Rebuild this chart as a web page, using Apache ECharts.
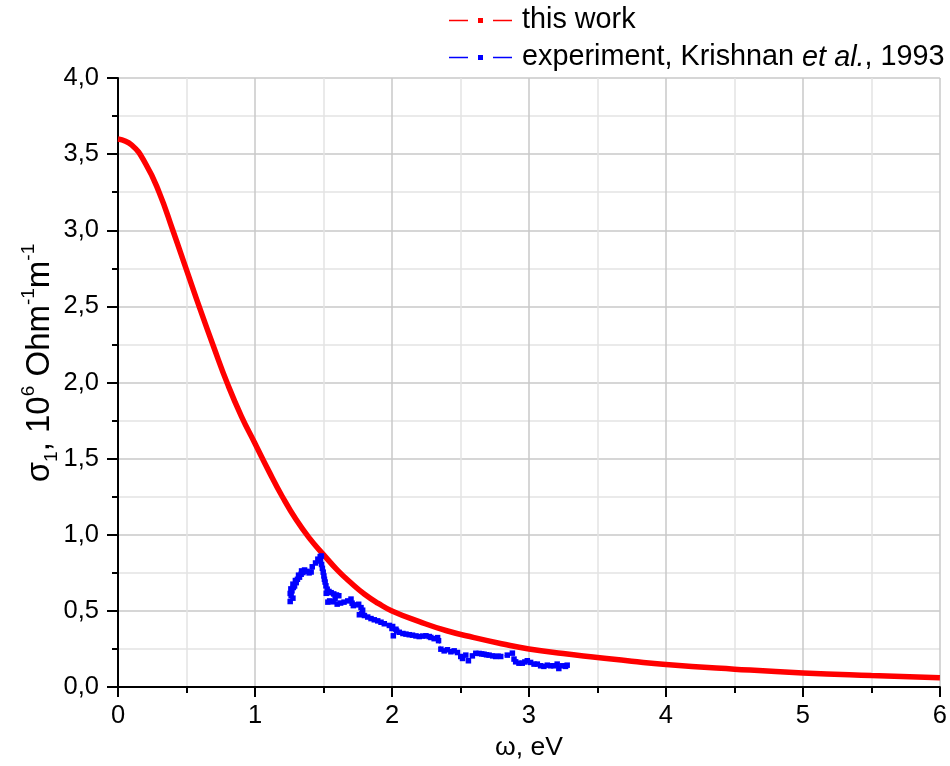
<!DOCTYPE html>
<html>
<head>
<meta charset="utf-8">
<script src="https://cdn.jsdelivr.net/npm/echarts@6/dist/echarts.min.js"></script>
<style>
  html, body { margin: 0; padding: 0; background: #ffffff; }
  #chart { width: 950px; height: 766px; }
</style>
</head>
<body>
<div id="chart"></div>
<script>
// Model: real part of the optical conductivity (this work)
const omegaModel = [0, 0.1, 0.2, 0.3, 0.4, 0.5, 0.6, 0.7, 0.8, 0.9, 1.0, 1.1, 1.2, 1.3, 1.4, 1.5,
  1.6, 1.7, 1.8, 1.9, 2.0, 2.2, 2.4, 2.6, 2.8, 3.0, 3.25, 3.5, 3.75, 4.0, 4.5, 5.0, 5.5, 6.0];
const sigmaModel = [3.60, 3.56, 3.44, 3.25, 3.00, 2.74, 2.48, 2.23, 1.99, 1.78, 1.60, 1.42, 1.25,
  1.10, 0.975, 0.87, 0.77, 0.685, 0.61, 0.55, 0.50, 0.43, 0.37, 0.325, 0.285, 0.25, 0.22, 0.195,
  0.17, 0.148, 0.118, 0.093, 0.076, 0.062];

// Experimental points (Krishnan et al., 1993)
const omegaExp = [1.257, 1.277, 1.264, 1.257, 1.270, 1.262, 1.280, 1.289, 1.277, 1.301, 1.295, 1.310,
  1.325, 1.318, 1.337, 1.350, 1.340, 1.362, 1.379, 1.395, 1.410, 1.418, 1.442, 1.459, 1.476, 1.485,
  1.478, 1.486, 1.492, 1.498, 1.503, 1.507, 1.512, 1.518, 1.527, 1.520, 1.540, 1.556, 1.575, 1.595,
  1.612, 1.585, 1.545, 1.532, 1.570, 1.600, 1.625, 1.650, 1.677, 1.701, 1.709, 1.718, 1.738, 1.757,
  1.774, 1.786, 1.762, 1.780, 1.799, 1.823, 1.847, 1.871, 1.896, 1.920, 1.944, 1.981, 2.005, 2.000,
  2.029, 2.010, 2.034, 2.053, 2.080, 2.102, 2.126, 2.150, 2.175, 2.199, 2.225, 2.248, 2.272, 2.284,
  2.308, 2.333, 2.340, 2.357, 2.381, 2.405, 2.430, 2.454, 2.478, 2.502, 2.515, 2.539, 2.558, 2.587,
  2.612, 2.636, 2.655, 2.672, 2.690, 2.709, 2.735, 2.757, 2.775, 2.794, 2.842, 2.879, 2.891, 2.903,
  2.927, 2.951, 2.970, 2.988, 3.012, 3.037, 3.061, 3.085, 3.109, 3.134, 3.158, 3.182, 3.206, 3.218,
  3.243, 3.267, 3.279];
const sigmaExp = [0.562, 0.584, 0.600, 0.615, 0.632, 0.645, 0.654, 0.664, 0.676, 0.686, 0.700, 0.708,
  0.722, 0.735, 0.741, 0.752, 0.763, 0.769, 0.760, 0.750, 0.756, 0.790, 0.815, 0.840, 0.857, 0.861,
  0.828, 0.805, 0.780, 0.755, 0.730, 0.708, 0.690, 0.665, 0.643, 0.616, 0.628, 0.620, 0.612, 0.605,
  0.600, 0.580, 0.566, 0.558, 0.560, 0.545, 0.552, 0.558, 0.566, 0.578, 0.551, 0.535, 0.540, 0.544,
  0.522, 0.505, 0.475, 0.482, 0.470, 0.460, 0.450, 0.442, 0.435, 0.426, 0.416, 0.405, 0.398, 0.385,
  0.380, 0.337, 0.369, 0.360, 0.352, 0.348, 0.344, 0.341, 0.336, 0.332, 0.335, 0.337, 0.332, 0.326,
  0.318, 0.325, 0.305, 0.249, 0.238, 0.245, 0.232, 0.238, 0.227, 0.201, 0.188, 0.210, 0.173, 0.205,
  0.222, 0.221, 0.218, 0.216, 0.212, 0.210, 0.205, 0.201, 0.203, 0.201, 0.210, 0.223, 0.184, 0.166,
  0.157, 0.157, 0.165, 0.173, 0.162, 0.151, 0.151, 0.140, 0.136, 0.144, 0.140, 0.140, 0.151, 0.122,
  0.140, 0.136, 0.144];

const seriesNames = ['this work', 'experiment, Krishnan et al., 1993'];

const FONT = '"Liberation Sans", Arial, sans-serif';
const legendIcon = 'path://M0,1.75H19V3.25H0Z M29,0H34V5H29Z M44,1.75H63V3.25H44Z';

const chart = echarts.init(document.getElementById('chart'), null, { renderer: 'canvas' });

const zip = (xs, ys) => xs.map((x, i) => [x, ys[i]]);

chart.setOption({
  animation: false,
  backgroundColor: '#ffffff',
  textStyle: { fontFamily: FONT },
  grid: { left: 118, right: 8, top: 78, bottom: 78, containLabel: false },
  legend: {
    orient: 'vertical',
    left: 449,
    top: 6,
    padding: 0,
    itemWidth: 63,
    itemHeight: 5,
    itemGap: 8,
    selectedMode: false,
    data: [
      { name: seriesNames[0], icon: legendIcon },
      { name: seriesNames[1], icon: legendIcon }
    ],
    formatter: function (name) {
      if (name === seriesNames[1]) {
        return '{n|experiment, Krishnan }{i|et al.}{n|, 1993}';
      }
      return '{n|' + name + '}';
    },
    textStyle: {
      fontFamily: FONT,
      fontSize: 28.8,
      color: '#000',
      padding: [0, 0, 0, 5],
      rich: {
        n: { fontFamily: FONT, fontSize: 28.8, color: '#000', lineHeight: 30 },
        i: { fontFamily: FONT, fontSize: 28.8, color: '#000', fontStyle: 'italic', lineHeight: 30 }
      }
    }
  },
  xAxis: {
    type: 'value',
    min: 0,
    max: 6,
    interval: 1,
    name: 'ω, eV',
    nameLocation: 'middle',
    nameGap: 45,
    nameTextStyle: { fontFamily: FONT, fontSize: 26.5, color: '#000' },
    axisLine: { show: true, onZero: false, lineStyle: { color: '#000', width: 2 } },
    axisTick: { show: true, inside: false, length: 10, lineStyle: { color: '#000', width: 2 } },
    minorTick: { show: true, splitNumber: 2, length: 6, lineStyle: { color: '#000', width: 2 } },
    axisLabel: { fontFamily: FONT, fontSize: 25.5, color: '#000', margin: 16,
      formatter: v => String(v) },
    splitLine: { show: true, lineStyle: { color: '#c8c8c8', width: 1.5 } },
    minorSplitLine: { show: true, lineStyle: { color: '#e3e3e3', width: 1.5 } }
  },
  yAxis: {
    type: 'value',
    min: 0,
    max: 4,
    interval: 0.5,
    axisLine: { show: true, onZero: false, lineStyle: { color: '#000', width: 2 } },
    axisTick: { show: true, inside: false, length: 11, lineStyle: { color: '#000', width: 2 } },
    minorTick: { show: true, splitNumber: 2, length: 6, lineStyle: { color: '#000', width: 2 } },
    axisLabel: { fontFamily: FONT, fontSize: 25.5, color: '#000', margin: 19,
      formatter: v => v.toFixed(1).replace('.', ',') },
    splitLine: { show: true, lineStyle: { color: '#c8c8c8', width: 1.5 } },
    minorSplitLine: { show: true, lineStyle: { color: '#e3e3e3', width: 1.5 } }
  },
  graphic: [{
    type: 'text',
    x: 40,
    y: 363,
    rotation: Math.PI / 2,
    style: {
      x: 0,
      y: 0,
      align: 'center',
      verticalAlign: 'middle',
      text: '{b|σ}{sub|1}{b|, 10}{sup|6}{b| Ohm}{sup|-1}{b|m}{sup|-1}',
      rich: {
        b: { fontFamily: FONT, fontSize: 33, color: '#000', lineHeight: 42, verticalAlign: 'middle' },
        sup: { fontFamily: FONT, fontSize: 19, color: '#000', lineHeight: 19, verticalAlign: 'top' },
        sub: { fontFamily: FONT, fontSize: 19, color: '#000', lineHeight: 19, verticalAlign: 'bottom' }
      }
    }
  }],
  series: [
    {
      name: seriesNames[0],
      type: 'line',
      data: zip(omegaModel, sigmaModel),
      smooth: 0.5,
      showSymbol: false,
      symbol: 'rect',
      color: '#ff0000',
      lineStyle: { color: '#ff0000', width: 5.5 },
      z: 2
    },
    {
      name: seriesNames[1],
      type: 'line',
      data: zip(omegaExp, sigmaExp),
      symbol: 'rect',
      symbolSize: 5.5,
      showSymbol: true,
      color: '#0000ff',
      itemStyle: { color: '#0000ff' },
      lineStyle: { color: '#3a3aff', width: 1, type: [4, 2] },
      z: 3
    }
  ]
});
</script>
</body>
</html>
